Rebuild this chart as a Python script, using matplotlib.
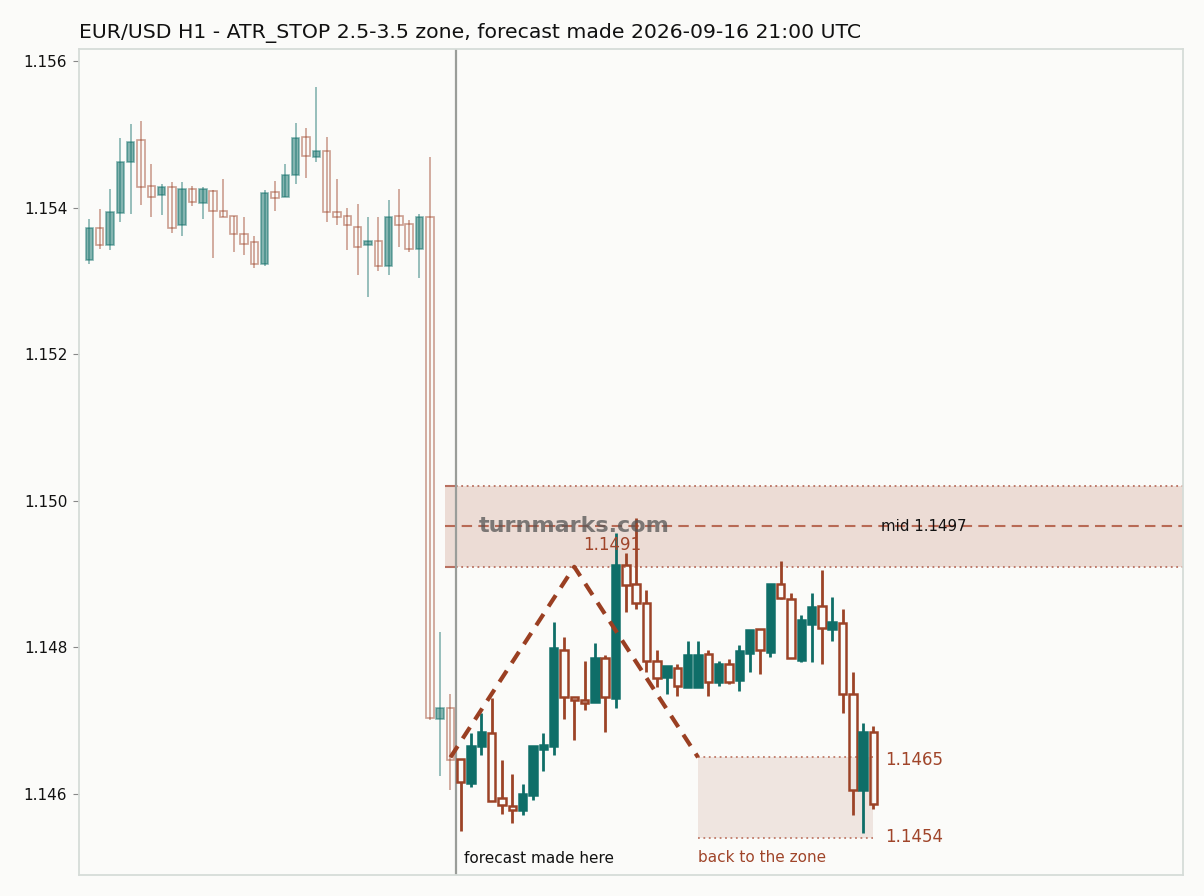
import numpy as np
import matplotlib.pyplot as plt
from matplotlib.patches import Rectangle

# history candles (faded) and forecast-period candles, H1
hist_open = [1.15328, 1.15372, 1.15349, 1.15392, 1.15462, 1.15492, 1.15429, 1.15417, 1.15428, 1.15376,
             1.15425, 1.15406, 1.15422, 1.15395, 1.15388, 1.15364, 1.15353, 1.15323, 1.15421, 1.15415,
             1.15444, 1.15496, 1.15469, 1.15477, 1.15394, 1.15388, 1.15374, 1.15349, 1.15354, 1.15320,
             1.15388, 1.15377, 1.15343, 1.15387, 1.14703, 1.14718]
hist_high = [1.15385, 1.15398, 1.15426, 1.15495, 1.15514, 1.15518, 1.15459, 1.15432, 1.15435, 1.15435,
             1.15430, 1.15428, 1.15424, 1.15439, 1.15388, 1.15387, 1.15361, 1.15424, 1.15436, 1.15459,
             1.15515, 1.15508, 1.15564, 1.15496, 1.15439, 1.15400, 1.15405, 1.15387, 1.15387, 1.15410,
             1.15425, 1.15383, 1.15391, 1.15469, 1.14821, 1.14736]
hist_low = [1.15323, 1.15343, 1.15342, 1.15381, 1.15391, 1.15403, 1.15387, 1.15390, 1.15366, 1.15361,
            1.15402, 1.15384, 1.15331, 1.15387, 1.15340, 1.15336, 1.15317, 1.15321, 1.15396, 1.15414,
            1.15432, 1.15440, 1.15462, 1.15381, 1.15376, 1.15342, 1.15308, 1.15278, 1.15314, 1.15308,
            1.15346, 1.15340, 1.15304, 1.14701, 1.14624, 1.14606]
hist_close = [1.15372, 1.15349, 1.15394, 1.15462, 1.15490, 1.15428, 1.15415, 1.15428, 1.15372, 1.15426,
              1.15407, 1.15426, 1.15395, 1.15387, 1.15364, 1.15350, 1.15323, 1.15420, 1.15413, 1.15444,
              1.15495, 1.15470, 1.15477, 1.15394, 1.15387, 1.15376, 1.15346, 1.15354, 1.15320, 1.15387,
              1.15376, 1.15344, 1.15387, 1.14704, 1.14717, 1.14646]

fut_open = [1.14648, 1.14615, 1.14665, 1.14683, 1.14595, 1.14584, 1.14578, 1.14599, 1.14662, 1.14665,
            1.14797, 1.14733, 1.14728, 1.14725, 1.14785, 1.14731, 1.14913, 1.14886, 1.14860, 1.14782,
            1.14759, 1.14772, 1.14746, 1.14746, 1.14791, 1.14753, 1.14778, 1.14755, 1.14793, 1.14825,
            1.14794, 1.14887, 1.14866, 1.14783, 1.14832, 1.14856, 1.14825, 1.14833, 1.14737, 1.14606,
            1.14684]
fut_high = [1.14648, 1.14683, 1.14710, 1.14731, 1.14647, 1.14627, 1.14614, 1.14666, 1.14683, 1.14834,
            1.14814, 1.14733, 1.14781, 1.14806, 1.14789, 1.14956, 1.14929, 1.14976, 1.14878, 1.14796,
            1.14775, 1.14777, 1.14809, 1.14809, 1.14796, 1.14781, 1.14784, 1.14803, 1.14824, 1.14825,
            1.14886, 1.14918, 1.14874, 1.14844, 1.14874, 1.14906, 1.14869, 1.14852, 1.14766, 1.14697,
            1.14693]
fut_low = [1.14550, 1.14610, 1.14653, 1.14590, 1.14573, 1.14561, 1.14571, 1.14592, 1.14632, 1.14653,
           1.14702, 1.14673, 1.14715, 1.14725, 1.14685, 1.14718, 1.14848, 1.14852, 1.14766, 1.14746,
           1.14737, 1.14734, 1.14746, 1.14746, 1.14734, 1.14748, 1.14750, 1.14741, 1.14767, 1.14764,
           1.14787, 1.14866, 1.14785, 1.14780, 1.14780, 1.14778, 1.14809, 1.14710, 1.14572, 1.14547,
           1.14580]
fut_close = [1.14617, 1.14666, 1.14685, 1.14590, 1.14585, 1.14578, 1.14600, 1.14665, 1.14667, 1.14799,
             1.14732, 1.14728, 1.14724, 1.14785, 1.14733, 1.14913, 1.14885, 1.14860, 1.14782, 1.14758,
             1.14774, 1.14748, 1.14790, 1.14790, 1.14753, 1.14778, 1.14753, 1.14795, 1.14824, 1.14796,
             1.14886, 1.14867, 1.14786, 1.14837, 1.14855, 1.14826, 1.14835, 1.14736, 1.14605, 1.14684,
             1.14586]

zone_top = 1.1502
zone_bot = 1.1491
zone_mid = 1.14965
path_x = [35, 47, 59]
path_y = [1.1465, 1.1491, 1.1465]
target_top = 1.1465
target_bot = 1.1454
target_x0, target_x1 = 59, 76
forecast_x = 35.5
yticks = [1.146, 1.148, 1.150, 1.152, 1.154, 1.156]

BG = '#fbfbf9'
UP = '#0f6e68'
DN = '#9c4327'

fig = plt.figure(figsize=(12.04, 8.96), dpi=100, facecolor=BG)
ax = fig.add_axes([79/1204, 1 - 875/896, 1104/1204, 826/896])
ax.set_facecolor(BG)


def draw(i, o, h, l, c, alpha, lw_wick, lw_body, hollow_fill):
    up = c >= o
    col = UP if up else DN
    lo, hi = min(o, c), max(o, c)
    w = 0.72
    if up:
        ax.vlines(i, l, h, color=col, lw=lw_wick, alpha=alpha, zorder=3)
        ax.add_patch(Rectangle((i - w/2, lo), w, hi - lo, facecolor=col, edgecolor=col,
                               lw=lw_body, alpha=alpha, zorder=4))
    else:
        if hollow_fill:
            ax.vlines(i, hi, h, color=col, lw=lw_wick, alpha=alpha, zorder=3)
            ax.vlines(i, l, lo, color=col, lw=lw_wick, alpha=alpha, zorder=3)
        else:
            ax.vlines(i, l, h, color=col, lw=lw_wick, alpha=alpha, zorder=3)
        ax.add_patch(Rectangle((i - w/2, lo), w, hi - lo, facecolor='none', edgecolor=col,
                               lw=lw_body, alpha=alpha, zorder=4))


for i in range(len(hist_open)):
    draw(i, hist_open[i], hist_high[i], hist_low[i], hist_close[i], 0.5, 1.2, 1.2, False)
n0 = len(hist_open)
for k in range(len(fut_open)):
    draw(n0 + k, fut_open[k], fut_high[k], fut_low[k], fut_close[k], 1.0, 2.0, 1.8, True)

# zone band
x_right = 106
ax.add_patch(Rectangle((34.5, zone_bot), x_right - 34.5, zone_top - zone_bot,
                       facecolor='#ecdcd5', edgecolor='none', zorder=1))
ax.hlines([zone_top, zone_bot], 34.5, x_right, colors='#b87060', linestyles=(0, (1, 2)), lw=1.3, zorder=2)
ax.hlines([zone_top, zone_bot], 34.5, 35.5, colors='#b87060', lw=1.5, zorder=2)
ax.hlines(zone_mid, 34.5, x_right, colors='#b86a55', linestyles=(0, (5, 3)), lw=1.5, zorder=2)
ax.text(76.7, zone_mid, 'mid 1.1497', fontsize=10.8, color='#111111', va='center', ha='left', zorder=6)

# target box
ax.add_patch(Rectangle((target_x0, target_bot), target_x1 - target_x0, target_top - target_bot,
                       facecolor='#efe5e0', edgecolor='none', zorder=1))
ax.hlines([target_top, target_bot], target_x0, target_x1, colors='#c07a68', linestyles=(0, (1, 2)),
          lw=1.3, zorder=2)
ax.text(77.1, target_top - 0.00003, '1.1465', fontsize=12, color='#a0452a', va='center', ha='left')
ax.text(77.1, target_bot + 0.00001, '1.1454', fontsize=12, color='#a0452a', va='center', ha='left')
ax.text(target_x0, 1.14524, 'back to the zone', fontsize=11, color='#a0452a', va='top', ha='left')

# forecast path
ax.plot(path_x, path_y, color='#9a3f22', lw=3, dashes=(3.2, 2.2), zorder=5)
ax.text(47.85, path_y[1] + 0.00017, '1.1491', fontsize=12, color='#a0452a', ha='left', va='bottom', zorder=6)

ax.axvline(forecast_x, color='#9a9d99', lw=1.6, zorder=2)
ax.text(forecast_x + 0.8, 1.14522, 'forecast made here', fontsize=11, color='#111111', va='top', ha='left')

ax.text(47.0, zone_mid, 'turnmarks.com', fontsize=16, fontweight='bold', color='#555555', alpha=0.75,
        ha='center', va='center', zorder=7)

ax.set_xlim(-1, 106)
ax.set_ylim(1.144895, 1.156164)
ax.set_xticks([])
ax.set_yticks(yticks)
ax.set_yticklabels(['%.3f' % t for t in yticks])
ax.tick_params(axis='y', labelsize=11, color='#888888', length=4, pad=4.5, labelcolor='#111111')
for s in ax.spines.values():
    s.set_color('#d6dcd8')
    s.set_linewidth(1.3)

ax.set_title('EUR/USD H1 - ATR_STOP 2.5-3.5 zone, forecast made 2026-09-16 21:00 UTC',
             fontsize=14.65, loc='left', color='#111111', pad=8)

fig.savefig('out.png', dpi=100, facecolor=BG)
